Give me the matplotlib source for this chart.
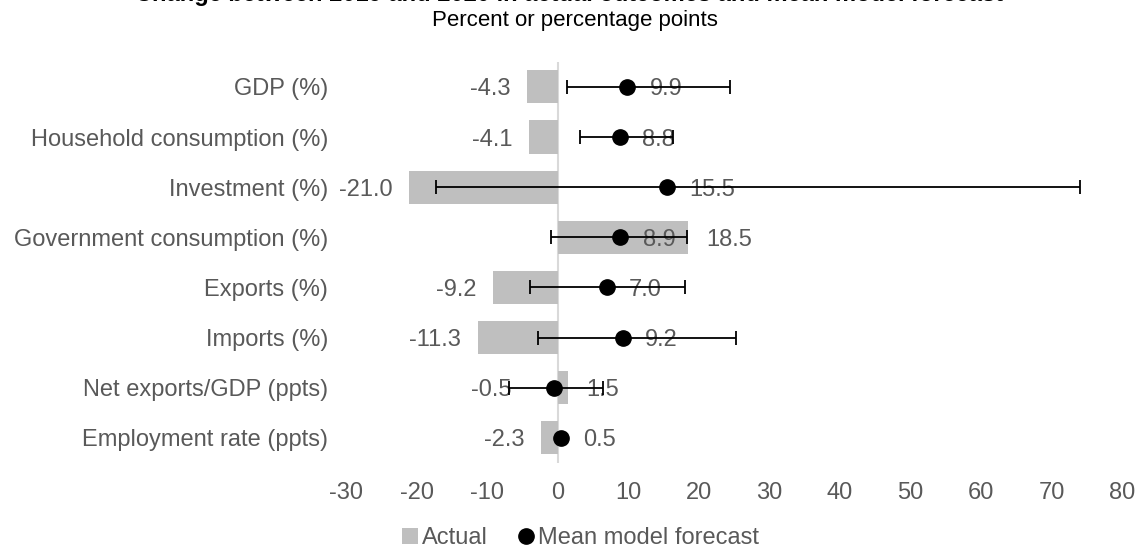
import numpy as np
import matplotlib
matplotlib.use("Agg")
import matplotlib.pyplot as plt
from matplotlib.lines import Line2D
from matplotlib.patches import Patch

plt.rcParams['font.family'] = ['Liberation Sans', 'DejaVu Sans']
plt.rcParams['axes.unicode_minus'] = False

categories = ["GDP (%)", "Household consumption (%)", "Investment (%)",
              "Government consumption (%)", "Exports (%)", "Imports (%)",
              "Net exports/GDP (ppts)", "Employment rate (ppts)"]
actual = [-4.3, -4.1, -21.0, 18.5, -9.2, -11.3, 1.5, -2.3]
forecast = [9.9, 8.8, 15.5, 8.9, 7.0, 9.2, -0.5, 0.5]
# forecast range (low, high) read from the whiskers
fc_low = [1.3, 3.2, -17.2, -1.0, -3.9, -2.8, -6.9, 0.3]
fc_high = [24.4, 16.3, 74.0, 18.3, 18.1, 25.3, 6.4, 0.7]

grey_txt = '#595959'
bar_col = '#bfbfbf'
fs = 17

fig = plt.figure(figsize=(11.38, 5.57), dpi=100)
ax = fig.add_axes([0.304, 0.169, 0.682, 0.72])

y = np.arange(len(categories))
ax.barh(y, actual, height=0.66, color=bar_col, zorder=2)
ax.axvline(0, color='#d9d9d9', lw=1.5, zorder=1)

fc = np.array(forecast)
err = np.vstack([fc - np.array(fc_low), np.array(fc_high) - fc])

# labels first so the whiskers run through them, as in the original
for yi, a, f in zip(y, actual, forecast):
    if a < 0:
        ax.annotate(f"{a:.1f}", (a, yi), xytext=(-12, 0), textcoords='offset points',
                    ha='right', va='center_baseline', fontsize=fs, color=grey_txt, zorder=3)
    else:
        ax.annotate(f"{a:.1f}", (a, yi), xytext=(13, 0), textcoords='offset points',
                    ha='left', va='center_baseline', fontsize=fs, color=grey_txt, zorder=3)
    if f < 0:
        ax.annotate(f"{f:.1f}", (f, yi), xytext=(-31, 0), textcoords='offset points',
                    ha='right', va='center_baseline', fontsize=fs, color=grey_txt, zorder=3)
    else:
        ax.annotate(f"{f:.1f}", (f, yi), xytext=(16, 0), textcoords='offset points',
                    ha='left', va='center_baseline', fontsize=fs, color=grey_txt, zorder=3)

ax.errorbar(forecast, y, xerr=err, fmt='o', color='black', ms=11,
            elinewidth=1.3, capsize=5, capthick=1.3, zorder=4)

ax.set_xlim(-30, 80)
ax.set_ylim(len(categories) - 0.5, -0.5)
ax.set_xticks(np.arange(-30, 81, 10))
ax.set_yticks(y)
ax.set_yticklabels(categories)
ax.tick_params(axis='both', length=0, labelsize=fs, colors=grey_txt)
ax.tick_params(axis='y', pad=13)
ax.tick_params(axis='x', pad=14)
for s in ax.spines.values():
    s.set_visible(False)

fig.text(0.5, 1.009, "Change between 2019 and 2020 in actual outcomes and mean model forecast",
         ha='center', va='center', fontsize=fs, fontweight='bold')
fig.text(0.505, 0.963, "Percent or percentage points", ha='center', va='center',
         fontsize=fs - 1, color='black')

handles = [Patch(facecolor=bar_col, edgecolor='none'),
           Line2D([], [], marker='o', color='black', ls='none', ms=11)]
fig.legend(handles, ["Actual", "Mean model forecast"], loc='center',
           bbox_to_anchor=(0.51, 0.034), ncol=2, frameon=False, fontsize=fs,
           labelcolor=grey_txt, handlelength=0.7, handletextpad=0.15, columnspacing=1.3)

fig.savefig("out.png", dpi=100)
